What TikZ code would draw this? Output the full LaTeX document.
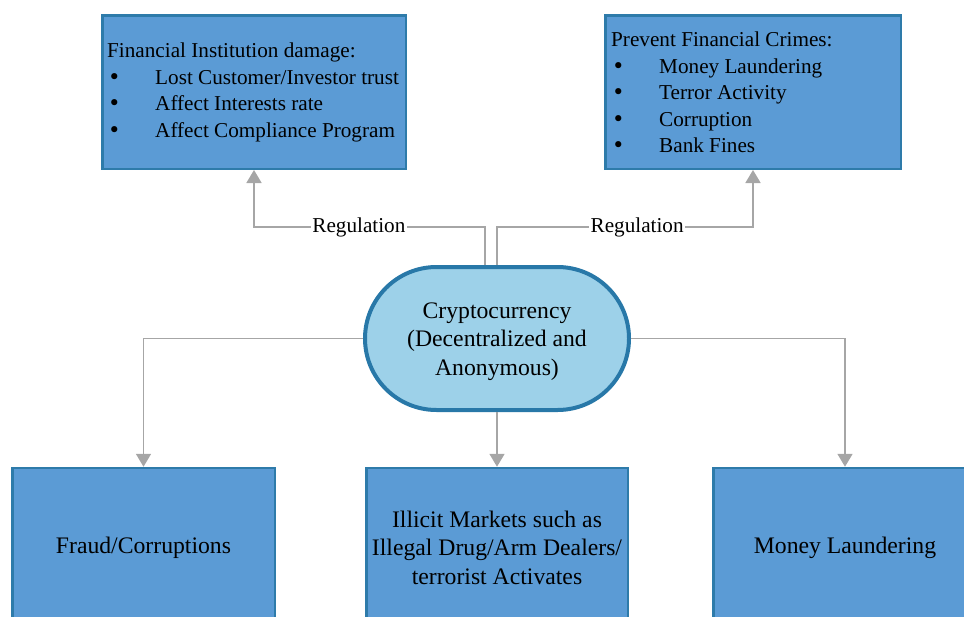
\documentclass[tikz,border=0pt]{standalone}
\usepackage{fontspec}
\setmainfont{Liberation Serif}
\newfontfamily\bulfont{DejaVu Sans}
\usetikzlibrary{arrows.meta}
\definecolor{boxfill}{HTML}{5B9BD5}
\definecolor{boxline}{HTML}{2E7BAA}
\definecolor{ovalfill}{HTML}{9DD1E9}
\definecolor{ovalline}{HTML}{2878A8}
\definecolor{conncol}{HTML}{A6A6A6}
\newcommand\bulitem[1]{\makebox[48pt][l]{\hspace{1pt}{\bulfont •}}#1}
\begin{document}
\begin{tikzpicture}[x=1pt,y=-1pt,
  bigfont/.style={font=\fontsize{23.7}{28.5}\selectfont},
  smallfont/.style={font=\fontsize{21.2}{26.6}\selectfont},
  bluebox/.style={draw=boxline, fill=boxfill, line width=2.5pt, rectangle, inner sep=0pt, align=center, bigfont},
  oval/.style={draw=ovalline, fill=ovalfill, line width=4pt, rectangle, rounded corners=71.5pt,
    minimum width=264pt, minimum height=143pt, inner sep=0pt, align=center, bigfont},
  conn/.style={draw=conncol, line width=1.8pt, -{Triangle[width=15pt,length=13pt]}},
  reglabel/.style={fill=white, inner sep=1.5pt, smallfont},
  listtext/.style={anchor=west, align=left, inner sep=0pt, smallfont}]
\useasboundingbox (0,0) rectangle (964,616);

% top boxes
\node[bluebox, minimum width=303.5pt, minimum height=153.5pt] (tl) at (254,92) {};
\node[bluebox, minimum width=295.5pt, minimum height=153.5pt] (tr) at (753,92) {};
\node[listtext] (tltext) at (107,92.5) {Financial Institution damage:\\
  \bulitem{Lost Customer/Investor trust}\\
  \bulitem{Affect Interests rate}\\
  \bulitem{Affect Compliance Program}};
\node[listtext] (trtext) at (611,92.5) {Prevent Financial Crimes:\\
  \bulitem{Money Laundering}\\
  \bulitem{Terror Activity}\\
  \bulitem{Corruption}\\
  \bulitem{Bank Fines}};

% central node
\node[oval] (crypto) at (497,338.5) {\rule{0pt}{0.9em}Cryptocurrency\\(Decentralized and\\Anonymous)};

% bottom boxes
\node[bluebox, minimum width=262.5pt, minimum height=154pt] (bl) at (143.5,545) {\rule{0pt}{0.9em}Fraud/Corruptions};
\node[bluebox, minimum width=261.5pt, minimum height=154pt] (bm) at (497,545) {\rule{0pt}{0.9em}Illicit Markets such as\\Illegal Drug/Arm Dealers/\\terrorist Activates};
\node[bluebox, minimum width=263.5pt, minimum height=154pt] (br) at (845,545) {\rule{0pt}{0.9em}Money Laundering};

% connectors
\draw[conn] (crypto.west) -| (bl.north);
\draw[conn] (crypto.south) -- (bm.north);
\draw[conn] (crypto.east) -| (br.north);
\draw[conn] ([xshift=-12pt]crypto.north) -- ++(0,-38) -| node[reglabel, pos=0.273] (reg1) {Regulation} (tl.south);
\draw[conn] ([xshift=-0.3pt]crypto.north) -- ++(0,-38) -| node[reglabel, pos=0.274] (reg2) {Regulation} (tr.south);
\end{tikzpicture}
\end{document}
